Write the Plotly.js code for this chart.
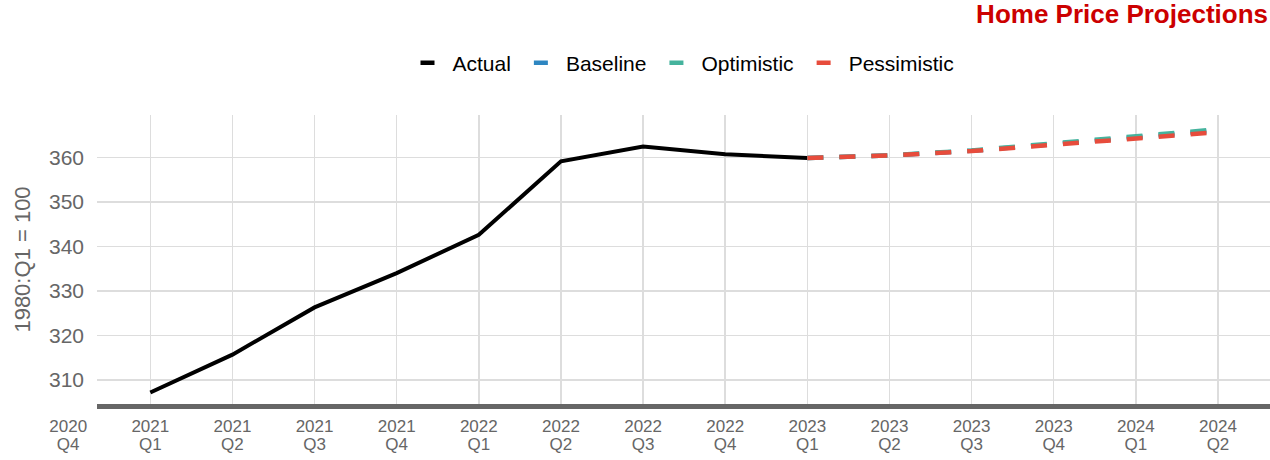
<!DOCTYPE html>
<html>
<head>
<meta charset="utf-8">
<script src="https://cdn.plot.ly/plotly-3.0.1.min.js"></script>
<style>
  html, body { margin: 0; padding: 0; background: #ffffff; }
  #chart { width: 1270px; height: 460px; }
</style>
</head>
<body>
<div id="chart"></div>
<script>
// ---------- data ----------
var quarterYears = ['2020', '2021', '2021', '2021', '2021', '2022', '2022', '2022', '2022', '2023', '2023', '2023', '2023', '2024', '2024'];
var quarterNames = ['Q4', 'Q1', 'Q2', 'Q3', 'Q4', 'Q1', 'Q2', 'Q3', 'Q4', 'Q1', 'Q2', 'Q3', 'Q4', 'Q1', 'Q2'];

// Actual index: 2021 Q1 .. 2023 Q1
var actualStart = 1;
var actualValues = [307.2, 315.7, 326.3, 334.0, 342.6, 359.1, 362.4, 360.7, 359.85];

// Projections: 2023 Q1 .. 2024 Q2
var projStart = 9;
var baselineValues    = [359.85, 360.4, 361.45, 363.0, 364.4, 366.0];
var optimisticValues  = [359.85, 360.45, 361.55, 363.2, 364.7, 366.3];
var pessimisticValues = [359.85, 360.4, 361.4, 362.8, 364.1, 365.65];

var seriesNames  = ['Actual', 'Baseline', 'Optimistic', 'Pessimistic'];
var seriesColors = ['#000000', '#2E86C1', '#45B39D', '#E74C3C'];

var yTicks = [310, 320, 330, 340, 350, 360];
var chartTitle = 'Home Price Projections';
var yTitle = '1980:Q1 = 100';

// ---------- helpers ----------
function idxFrom(start, n) { var a = []; for (var i = 0; i < n; i++) a.push(start + i); return a; }
var allIdx = idxFrom(0, quarterYears.length);
var actualX = idxFrom(actualStart, actualValues.length);
var projX = idxFrom(projStart, baselineValues.length);

// ---------- layout geometry ----------
var W = 1270;
var plotLeftPx = 97;
var pxPerUnit = 82.13;
var firstTickPx = 150.3;   // pixel of index 1
function idxAtPx(px) { return 1 + (px - firstTickPx) / pxPerUnit; }

var FONT = 'Liberation Sans, Arial, sans-serif';

var traces = [];
traces.push({
  x: actualX, y: actualValues, type: 'scatter', mode: 'lines',
  name: seriesNames[0], showlegend: false, hoverinfo: 'skip',
  line: { color: seriesColors[0], width: 4 },
  xaxis: 'x', yaxis: 'y'
});
var projSets = [baselineValues, optimisticValues, pessimisticValues];
for (var s = 0; s < 3; s++) {
  traces.push({
    x: projX, y: projSets[s], type: 'scatter', mode: 'lines',
    name: seriesNames[s + 1], showlegend: false, hoverinfo: 'skip',
    line: { color: seriesColors[s + 1], width: 4.5, dash: '16px,16px' },
    xaxis: 'x', yaxis: 'y'
  });
}
// legend entries (short thick dashes)
for (var k = 0; k < seriesNames.length; k++) {
  traces.push({
    x: [null], y: [null], type: 'scatter', mode: 'markers',
    name: seriesNames[k], showlegend: true, hoverinfo: 'skip',
    marker: { symbol: 'line-ew-open', size: 10, color: seriesColors[k], line: { color: seriesColors[k], width: 4.5 } },
    xaxis: 'x', yaxis: 'y'
  });
}
// helper traces carrying the two tick-label rows (year row, quarter row)
traces.push({ x: allIdx, y: allIdx, type: 'scatter', mode: 'none', showlegend: false, hoverinfo: 'skip', xaxis: 'x2', yaxis: 'y2' });
traces.push({ x: allIdx, y: allIdx, type: 'scatter', mode: 'none', showlegend: false, hoverinfo: 'skip', xaxis: 'x3', yaxis: 'y3' });

var tickFont = { family: FONT, size: 17, color: '#666666' };

var layout = {
  width: 1270, height: 460,
  margin: { l: 0, r: 0, t: 115, b: 56, pad: 0 },
  paper_bgcolor: '#ffffff',
  plot_bgcolor: 'rgba(0,0,0,0)',
  font: { family: FONT },
  title: {
    text: '<b>' + chartTitle + '</b>',
    font: { family: FONT, size: 26, color: '#CC0000' },
    x: 1, xref: 'paper', xanchor: 'right',
    y: 1 - 14 / 460, yref: 'container', yanchor: 'middle',
    pad: { r: 2 }
  },
  showlegend: true,
  legend: {
    orientation: 'h',
    x: 681 / W, xref: 'paper', xanchor: 'center',
    y: 1 - 63 / 460, yref: 'container', yanchor: 'middle',
    font: { family: FONT, size: 21, color: '#000000' },
    itemwidth: 40,
    traceorder: 'normal',
    bgcolor: 'rgba(0,0,0,0)'
  },
  xaxis: {
    domain: [plotLeftPx / W, 1],
    range: [idxAtPx(plotLeftPx), idxAtPx(W)],
    type: 'linear',
    tickmode: 'array', tickvals: allIdx, ticktext: quarterNames,
    showticklabels: false, ticks: '',
    showgrid: true, gridcolor: '#dddddd', gridwidth: 1.5,
    zeroline: false,
    showline: true, linecolor: '#666666', linewidth: 5,
    anchor: 'y', fixedrange: true
  },
  yaxis: {
    domain: [0, 1],
    range: [304.61, 369.5],
    tickmode: 'array', tickvals: yTicks,
    showgrid: true, gridcolor: '#dddddd', gridwidth: 1.5,
    zeroline: false, showline: false,
    ticks: '', ticklabelstandoff: 12,
    tickfont: { family: FONT, size: 21, color: '#666666' },
    title: { text: yTitle, font: { family: FONT, size: 22, color: '#666666' }, standoff: 12 },
    anchor: 'x', fixedrange: true
  },
  xaxis2: {
    domain: [0, 1],
    range: [idxAtPx(0), idxAtPx(W)],
    type: 'linear',
    tickmode: 'array', tickvals: allIdx, ticktext: quarterYears,
    tickfont: tickFont,
    ticks: '', showgrid: false, zeroline: false, showline: false,
    anchor: 'free', position: 0, ticklabelstandoff: 10, fixedrange: true
  },
  yaxis2: { domain: [0, 1], visible: false, showgrid: false, zeroline: false, anchor: 'x2', fixedrange: true },
  xaxis3: {
    domain: [0, 1],
    range: [idxAtPx(0), idxAtPx(W)],
    type: 'linear',
    tickmode: 'array', tickvals: allIdx, ticktext: quarterNames,
    tickfont: tickFont,
    ticks: '', showgrid: false, zeroline: false, showline: false,
    anchor: 'free', position: 0, ticklabelstandoff: 28, fixedrange: true
  },
  yaxis3: { domain: [0, 1], visible: false, showgrid: false, zeroline: false, anchor: 'x3', fixedrange: true }
};

Plotly.newPlot('chart', traces, layout, { staticPlot: true, displayModeBar: false, responsive: false });
</script>
</body>
</html>
